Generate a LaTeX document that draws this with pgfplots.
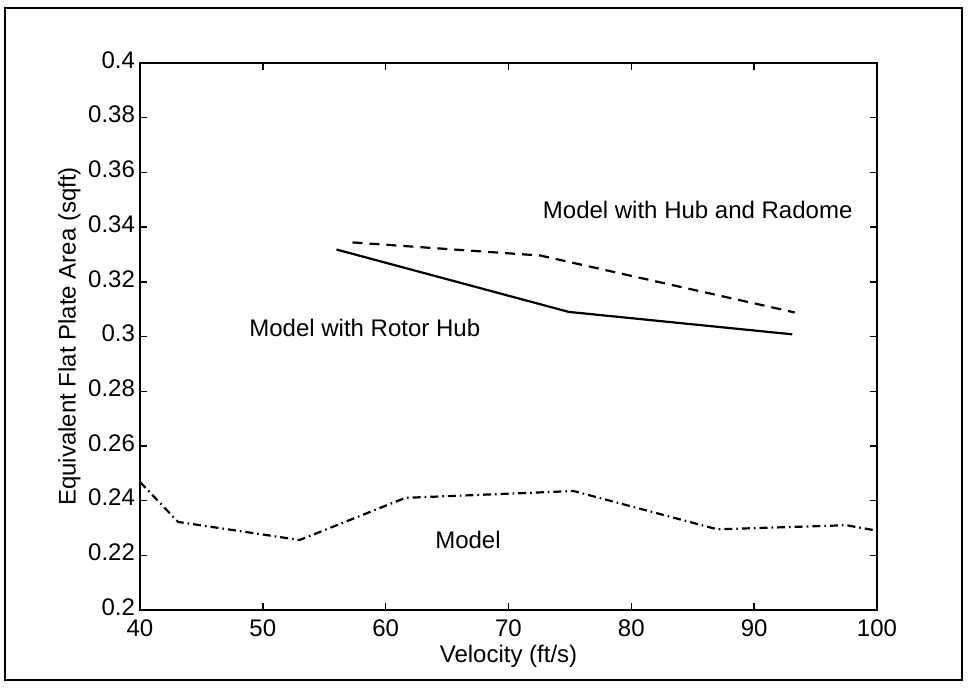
\documentclass[border=0pt]{standalone}
\usepackage{pgfplots}
\pgfplotsset{compat=1.18}
\usepackage{fontspec}
\setmainfont{Liberation Sans}
\begin{document}
\begin{tikzpicture}
\useasboundingbox (-70pt,-41pt) rectangle (414.5pt,305pt);
\draw[line width=1.4pt] (-67.5pt,-35pt) rectangle (411pt,301pt);
\begin{axis}[
  at={(0,0)}, anchor=south west,
  scale only axis, width=368.5pt, height=273.5pt,
  xmin=40, xmax=100, ymin=0.2, ymax=0.4,
  xtick={40,50,...,100},
  ytick={0.2,0.22,...,0.401},
  yticklabels={0.2,0.22,0.24,0.26,0.28,0.3,0.32,0.34,0.36,0.38,0.4},
  tick align=inside, major tick length=3.5pt,
  axis line style={line width=1pt},
  every tick/.style={line width=0.7pt,black},
  tick label style={font=\fontsize{12}{14}\selectfont},
  yticklabel style={xshift=1pt, yshift=1.5pt},
  xticklabel style={yshift=-1.5pt},
  /pgf/number format/assume math mode=true,
  xlabel={Velocity (ft/s)},
  ylabel={Equivalent Flat Plate Area (sqft)},
  label style={font=\fontsize{12}{14}\selectfont},
  xlabel style={yshift=3pt},
  ylabel style={yshift=-3pt},
  clip=false,
]
\addplot[black, line width=1.1pt, dash pattern=on 4pt off 2pt on 0.8pt off 2pt] coordinates {
 (40,0.2468) (43.1,0.2322) (53.0,0.2256) (61.6,0.2410) (75.3,0.2435)
 (87.0,0.2295) (97.5,0.2310) (100,0.2290)};
\addplot[black, line width=1.1pt] coordinates {
 (56.0,0.3318) (74.9,0.3090) (93.1,0.3008)};
\addplot[black, line width=1.1pt, dash pattern=on 5pt off 3.5pt] coordinates {
 (57.3,0.3344) (72.6,0.3296) (93.3,0.3088)};
\node[font=\fontsize{12}{14}\selectfont] at (axis cs:85.4,0.3463) {Model with Hub and Radome};
\node[font=\fontsize{12}{14}\selectfont] at (axis cs:58.3,0.3030) {Model with Rotor Hub};
\node[font=\fontsize{12}{14}\selectfont] at (axis cs:66.7,0.2256) {Model};
\end{axis}
\end{tikzpicture}
\end{document}
